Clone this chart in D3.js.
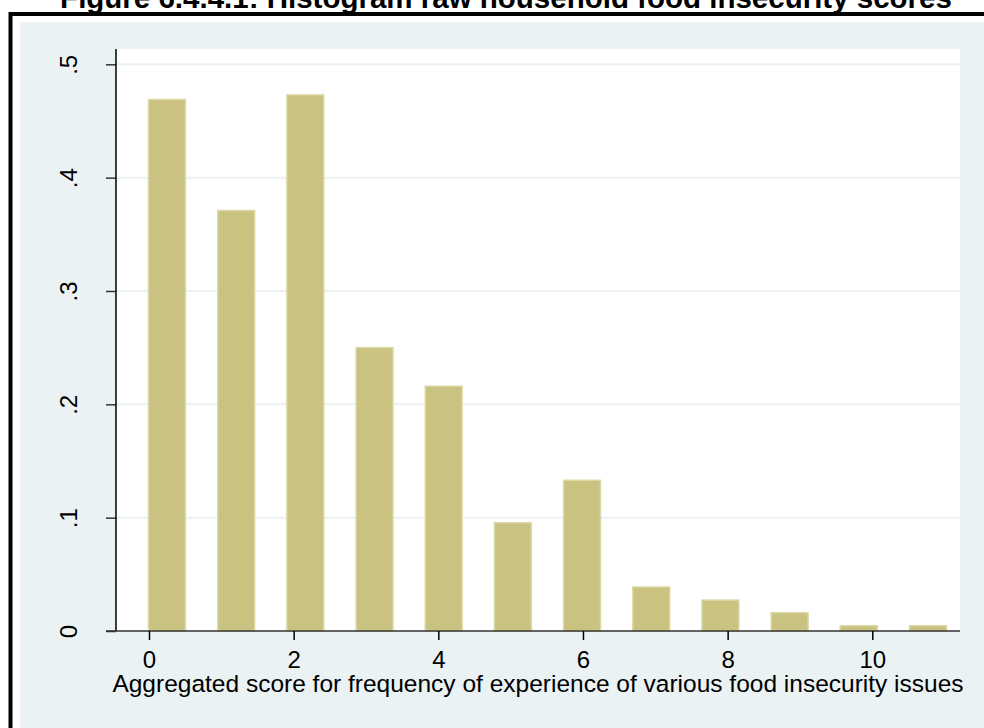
<!DOCTYPE html>
<html>
<head>
<meta charset="utf-8">
<script src="https://cdn.jsdelivr.net/npm/d3@7"></script>
<style>
  body { margin: 0; background: #fff; }
  svg { display: block; font-family: "Liberation Sans", Arial, sans-serif; }
</style>
</head>
<body>
<div id="grafico"></div>
<script>
// valores
var binStart = [0, 0.957, 1.913, 2.870, 3.826, 4.783, 5.739, 6.696, 7.652, 8.609, 9.565, 10.522];
var density  = [0.469, 0.371, 0.473, 0.250, 0.216, 0.0955, 0.133, 0.0388, 0.0273, 0.0161, 0.0047, 0.0047];
var xTicks = [0, 2, 4, 6, 8, 10];
var yTicks = [0, 0.1, 0.2, 0.3, 0.4, 0.5];
var yTickLabels = ["0", ".1", ".2", ".3", ".4", ".5"];

var width = 984,
    height = 728,
    barWidth = 0.51;

var svg = d3.select("#grafico").append("svg")
    .attr("width", width)
    .attr("height", height);

// título (cortado no topo como no original)
svg.append("text")
    .attr("x", 506)
    .attr("y", 8)
    .attr("text-anchor", "middle")
    .attr("font-weight", "bold")
    .attr("font-size", "29.5px")
    .text("Figure 6.4.4.1: Histogram raw household food insecurity scores");

// moldura preta
svg.append("rect")
    .attr("x", 10.5).attr("y", 14)
    .attr("width", 1000).attr("height", 800)
    .attr("fill", "#fff")
    .attr("stroke", "#000")
    .attr("stroke-width", 4);

// fundo cinza azulado
svg.append("rect")
    .attr("x", 20).attr("y", 22)
    .attr("width", 980).attr("height", 720)
    .attr("fill", "#eaf2f3");

var plot = { left: 116, right: 960, top: 49, bottom: 631 };

svg.append("rect")
    .attr("x", plot.left).attr("y", plot.top)
    .attr("width", plot.right - plot.left)
    .attr("height", plot.bottom - plot.top)
    .attr("fill", "#fff");

var x = d3.scaleLinear().domain([0, 10]).range([149, 872.3]);
var y = d3.scaleLinear().domain([0, 0.5]).range([631, 64.3]);

// grade
svg.append("g").selectAll("line")
    .data(yTicks.slice(1))
    .enter().append("line")
    .attr("x1", plot.left).attr("x2", plot.right)
    .attr("y1", function(d) { return y(d); })
    .attr("y2", function(d) { return y(d); })
    .attr("stroke", "#eaf2f3")
    .attr("stroke-width", 2);

// barras
svg.append("g").selectAll("rect")
    .data(density)
    .enter().append("rect")
    .attr("x", function(d, i) { return x(binStart[i]) - 0.5; })
    .attr("y", function(d) { return y(d); })
    .attr("width", function(d, i) { return x(binStart[i] + barWidth) - x(binStart[i]); })
    .attr("height", function(d) { return y(0) - y(d); })
    .attr("fill", "#c9c280")
    .attr("stroke", "#dcd8a6")
    .attr("stroke-width", 1.5);

// eixo y
var yAxis = d3.axisLeft(y)
    .tickValues(yTicks)
    .tickSize(10)
    .tickFormat(function(d, i) { return yTickLabels[i]; });

var gy = svg.append("g")
    .attr("transform", "translate(" + plot.left + ",0)")
    .call(yAxis);
gy.select(".domain").remove();
gy.append("line")
    .attr("x1", 0).attr("x2", 0)
    .attr("y1", plot.top).attr("y2", plot.bottom)
    .attr("stroke", "#000").attr("stroke-width", 1.5);
gy.selectAll(".tick line").attr("stroke", "#333").attr("stroke-width", 1.5);
gy.selectAll(".tick text")
    .attr("font-size", "24px")
    .attr("fill", "#000")
    .attr("text-anchor", "middle")
    .attr("transform", "rotate(-90)")
    .attr("x", 0)
    .attr("y", -39)
    .attr("dy", 0);

// eixo x
var xAxis = d3.axisBottom(x)
    .tickValues(xTicks)
    .tickSize(9)
    .tickSizeOuter(0);

var gx = svg.append("g")
    .attr("transform", "translate(0," + plot.bottom + ")")
    .call(xAxis);
gx.select(".domain")
    .attr("d", "M106,0H" + plot.right)
    .attr("stroke", "#333")
    .attr("stroke-width", 1.5);
gx.selectAll(".tick line").attr("stroke", "#000").attr("stroke-width", 1.5);
gx.selectAll(".tick text")
    .attr("font-size", "24px")
    .attr("fill", "#000")
    .attr("y", 37)
    .attr("dy", 0);

svg.append("text")
    .attr("x", (plot.left + plot.right) / 2)
    .attr("y", 692)
    .attr("text-anchor", "middle")
    .attr("font-size", "24.5px")
    .text("Aggregated score for frequency of experience of various food insecurity issues");
</script>
</body>
</html>
